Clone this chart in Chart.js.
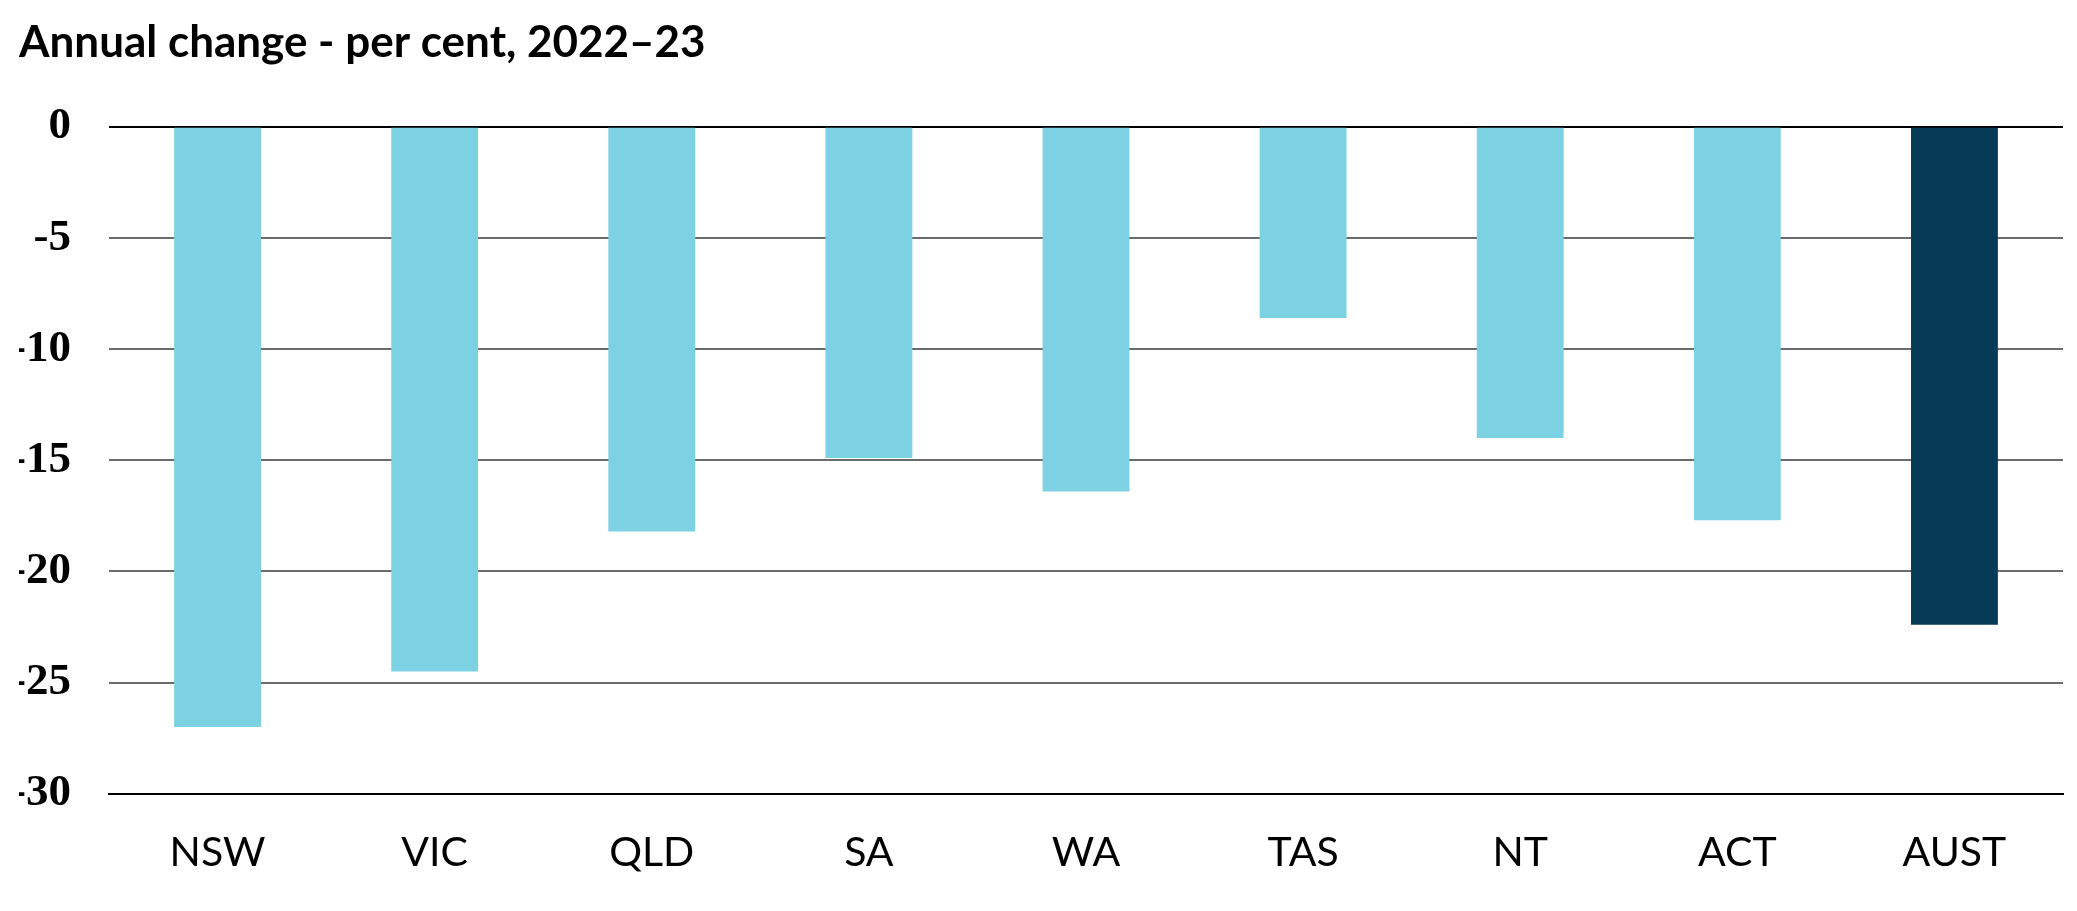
<!DOCTYPE html>
<html>
<head>
<meta charset="utf-8">
<script src="https://cdn.jsdelivr.net/npm/chart.js@4"></script>
<style>
  html, body { margin: 0; padding: 0; background: #ffffff; }
  #wrap { width: 2077px; height: 911px; position: relative; }
</style>
</head>
<body>
<div id="wrap"><canvas id="c"></canvas></div>
<script>
const titleText = 'Annual change - per cent, 2022\u201323';
const categories = ['NSW', 'VIC', 'QLD', 'SA', 'WA', 'TAS', 'NT', 'ACT', 'AUST'];
const values = [-27.0, -24.5, -18.2, -14.9, -16.4, -8.6, -14.0, -17.7, -22.4];
const yTicks = [0, -5, -10, -15, -20, -25, -30];

const LIGHT = '#7cd1e2';
const DARK = '#053b57';

new Chart(document.getElementById('c'), {
  type: 'bar',
  data: {
    labels: categories,
    datasets: [{
      data: values,
      backgroundColor: categories.map(c => c === 'AUST' ? DARK : LIGHT),
      borderWidth: 0,
      barPercentage: 0.4,
      categoryPercentage: 1.0
    }]
  },
  options: {
    responsive: true,
    maintainAspectRatio: false,
    animation: false,
    devicePixelRatio: 1,
    layout: { padding: { left: 19, right: 14, top: 0, bottom: 0 } },
    plugins: {
      legend: { display: false },
      tooltip: { enabled: false },
      title: {
        display: true,
        text: titleText,
        align: 'start',
        color: '#000000',
        font: { family: 'Lato', weight: 'bold', size: 44, lineHeight: 1.2 },
        padding: { top: 16, bottom: 58 }
      }
    },
    scales: {
      x: {
        grid: { display: false, drawTicks: false },
        border: { display: true, color: '#000000', width: 2 },
        ticks: {
          color: '#000000',
          padding: 34,
          font: { family: 'Lato', size: 41, lineHeight: 1.2 }
        }
      },
      y: {
        min: -30,
        max: 0,
        afterFit: (scale) => { scale.width = 90; },
        afterBuildTicks: (scale) => { scale.ticks = yTicks.map(v => ({ value: v })); },
        grid: {
          drawTicks: false,
          lineWidth: 2,
          color: (ctx) => (ctx.tick && (ctx.tick.value === 0 || ctx.tick.value === -30)) ? '#000000' : '#6b6b6b'
        },
        border: { display: false },
        ticks: {
          color: '#000000',
          padding: 38,
          font: { family: 'Liberation Serif', weight: 'bold', size: 45 }
        }
      }
    }
  }
});
</script>
</body>
</html>
